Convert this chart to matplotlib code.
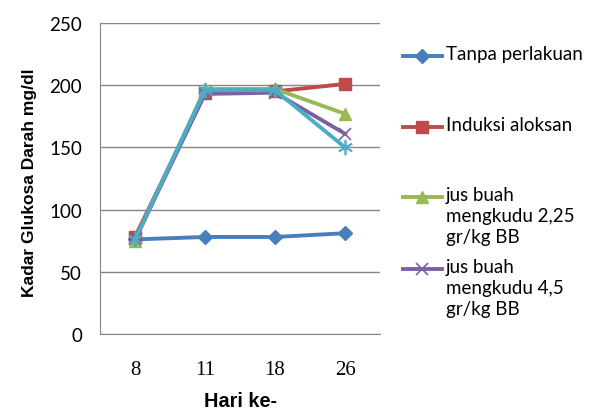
import matplotlib.pyplot as plt
from matplotlib.lines import Line2D

days = ["8", "11", "18", "26"]

tanpa_perlakuan = [76, 78, 78, 81]
induksi_aloksan = [78, 194, 195, 201]
jus_225 = [75, 197, 197, 177]
jus_45 = [76, 193, 194, 161]
jus_series5 = [76, 196, 196, 150]

labels = [
    "Tanpa perlakuan",
    "Induksi aloksan",
    "jus buah\nmengkudu 2,25\ngr/kg BB",
    "jus buah\nmengkudu 4,5\ngr/kg BB",
]

W, H = 590, 410
fig = plt.figure(figsize=(W / 100, H / 100), dpi=100)
ax = fig.add_axes([100 / W, 75 / H, 280 / W, 311 / H])

x = range(len(days))
styles = [
    dict(color="#4A7EBB", marker="D", markersize=7),
    dict(color="#BE4B48", marker="s", markersize=8.5),
    dict(color="#98B954", marker="^", markersize=9),
    dict(color="#7D60A0", marker="x", markersize=9, markeredgewidth=1.2),
    dict(color="#4BACC6", marker=(6, 2, 0), markersize=11, markeredgewidth=1.2),
]
series = [tanpa_perlakuan, induksi_aloksan, jus_225, jus_45, jus_series5]
for vals, st in zip(series, styles):
    ax.plot(x, vals, lw=2.8, **st)

ax.set_xlim(-0.5, 3.5)
ax.set_ylim(0, 250)
ax.set_yticks(range(0, 251, 50))
ax.set_xticks(list(x))
ax.set_xticklabels(days, family="Liberation Serif", fontsize=15)
for t in ax.get_yticklabels():
    t.set_family("Lato")
    t.set_fontsize(13.5)
ax.tick_params(length=0)
ax.tick_params(axis="x", pad=19)
ax.tick_params(axis="y", pad=13)
ax.grid(axis="y", color="#868686", lw=1)
ax.set_axisbelow(True)
for s in ["top", "right"]:
    ax.spines[s].set_visible(False)
for s in ["left", "bottom"]:
    ax.spines[s].set_color("#868686")

ax.set_xlabel("Hari ke-", family="Liberation Sans", fontweight="bold", fontsize=14.3)
ax.xaxis.label.set_va("center")
ax.xaxis.set_label_coords(0.5, -(402 - 335) / 311)
ax.set_ylabel("Kadar Glukosa Darah mg/dl", family="Liberation Sans", fontweight="bold",
              fontsize=12.5)
ax.yaxis.label.set_va("center")
ax.yaxis.set_label_coords((30 - 100) / 280, 0.49)

# legend drawn by hand so the handle sits on the first text line
entry_y = [57, 128, 198, 270]
for lab, st, yy in zip(labels, styles, entry_y):
    fy = 1 - yy / H
    fig.add_artist(Line2D([403 / W, 422 / W, 442 / W], [fy, fy, fy], transform=fig.transFigure,
                          lw=2.8, markevery=[1], **st))
    fig.text(446 / W, fy + 11 / H, lab, family="Lato", fontsize=13.5, va="top",
             linespacing=1.3, transform=fig.transFigure)

fig.savefig("out.png", dpi=100)
